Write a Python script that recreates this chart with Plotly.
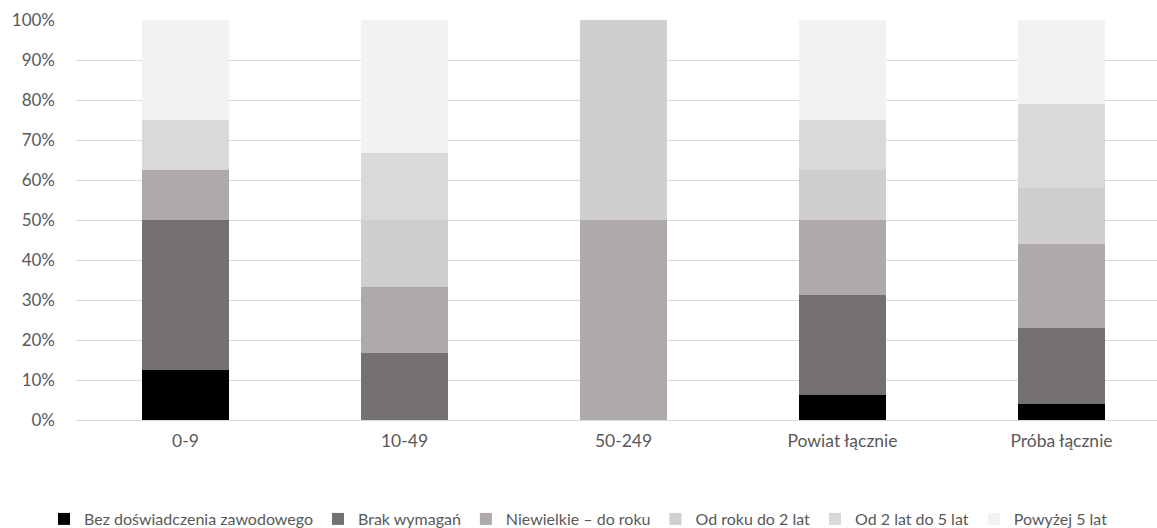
import plotly.graph_objects as go

categories = ["0-9", "10-49", "50-249", "Powiat łącznie", "Próba łącznie"]

series_names = [
    "Bez doświadczenia zawodowego",
    "Brak wymagań",
    "Niewielkie – do roku",
    "Od roku do 2 lat",
    "Od 2 lat do 5 lat",
    "Powyżej 5 lat",
]

bez_doswiadczenia = [12.5, 0.0, 0.0, 6.25, 4.1]
brak_wymagan = [37.5, 16.67, 0.0, 25.0, 18.8]
niewielkie = [12.5, 16.67, 50.0, 18.75, 21.0]
od_roku_do_2 = [0.0, 16.67, 50.0, 12.5, 14.2]
od_2_do_5 = [12.5, 16.67, 0.0, 12.5, 20.8]
powyzej_5 = [25.0, 33.33, 0.0, 25.0, 21.1]

series_values = [bez_doswiadczenia, brak_wymagan, niewielkie, od_roku_do_2, od_2_do_5, powyzej_5]
colors = ["#000000", "#767171", "#AEAAAA", "#D0CECE", "#D9D9D9", "#F2F2F2"]

font_family = "Lato, 'Open Sans', sans-serif"
text_color = "#595959"

fig = go.Figure()
for name, vals, col in zip(series_names, series_values, colors):
    fig.add_trace(go.Bar(
        name=name,
        x=categories,
        y=vals,
        marker=dict(color=col, line=dict(width=0)),
    ))

fig.update_layout(
    barmode="stack",
    bargap=0.6,
    width=1157,
    height=528,
    margin=dict(l=76, r=0, t=20, b=108, autoexpand=False),
    paper_bgcolor="white",
    plot_bgcolor="white",
    font=dict(family=font_family, size=17, color=text_color),
    showlegend=True,
    legend=dict(
        orientation="h",
        x=0.5, xanchor="center", xref="container",
        y=0.017, yanchor="middle", yref="container",
        font=dict(size=16, color=text_color),
        itemwidth=30,
        traceorder="normal",
    ),
    xaxis=dict(
        range=[-0.5, 4.436],
        showgrid=False,
        showline=True,
        linecolor="#D9D9D9",
        linewidth=1,
        ticks="",
        ticklabelstandoff=5,
        automargin=False,
        tickfont=dict(size=17.5, color=text_color),
    ),
    yaxis=dict(
        range=[0, 100],
        tickvals=[0, 10, 20, 30, 40, 50, 60, 70, 80, 90, 100],
        ticktext=[f"{v}%" for v in range(0, 101, 10)],
        showgrid=True,
        gridcolor="#D9D9D9",
        gridwidth=1,
        zeroline=False,
        ticks="",
        ticklabelstandoff=20,
        automargin=False,
        tickfont=dict(size=17, color=text_color),
    ),
)

fig.write_html("out.html")
